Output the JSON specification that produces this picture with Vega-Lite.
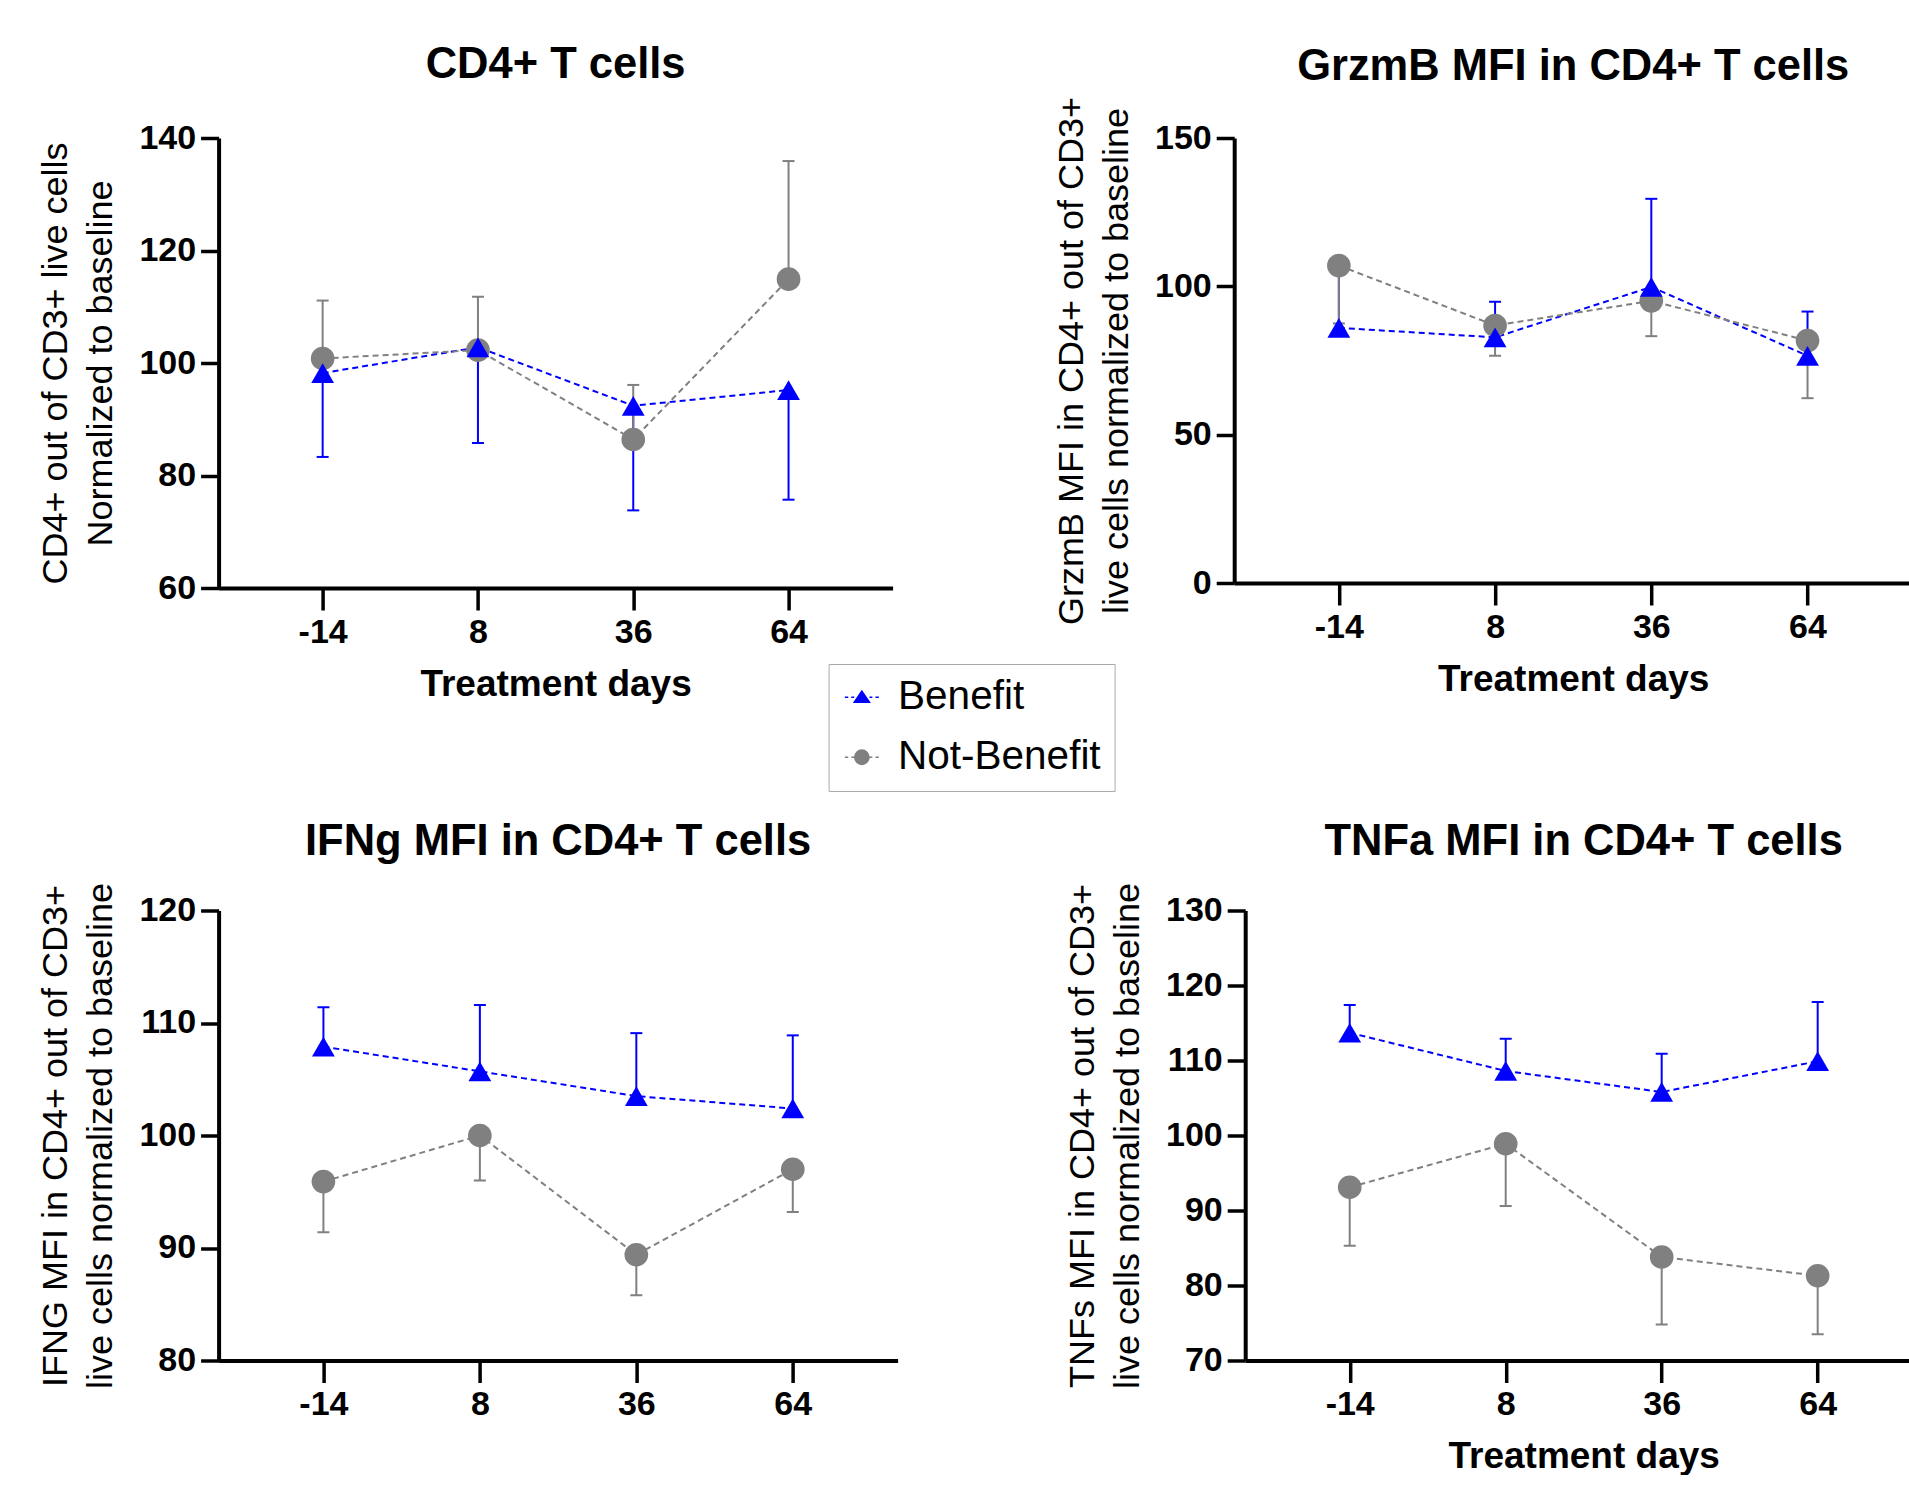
{
  "$schema": "https://vega.github.io/schema/vega-lite/v6.json",
  "padding": {"left": 37.6, "top": 42, "right": 0, "bottom": 0},
  "background": "white",
  "config": {
    "font": "Liberation Sans",
    "view": {"stroke": null},
    "axis": {"grid": false, "domainColor": "black", "domainWidth": 4, "tickColor": "black", "tickWidth": 3.5, "labelColor": "black", "labelFont": "Liberation Sans", "labelFontWeight": "bold", "labelFontSize": 34, "titleFont": "Liberation Sans", "titleColor": "black"},
    "axisY": {"tickSize": 18, "labelPadding": 5, "titleFontWeight": "normal", "titleFontSize": 36, "titleLineHeight": 45, "titlePadding": 19},
    "axisX": {"tickSize": 22, "labelPadding": 5, "labelAngle": 0, "titleFontWeight": "bold", "titleFontSize": 37, "titlePadding": 17},
    "title": {"fontSize": 43.5, "fontWeight": "bold", "font": "Liberation Sans", "color": "black", "anchor": "middle"}
  },
  "datasets": {
    "d": [
      {"panel": "P1", "group": "Benefit", "day": -14, "value": 98.2, "err": 83.3},
      {"panel": "P1", "group": "Benefit", "day": 8, "value": 102.8, "err": 85.8},
      {"panel": "P1", "group": "Benefit", "day": 36, "value": 92.4, "err": 73.8},
      {"panel": "P1", "group": "Benefit", "day": 64, "value": 95.2, "err": 75.7},
      {"panel": "P1", "group": "Not-Benefit", "day": -14, "value": 100.8, "err": 111.1},
      {"panel": "P1", "group": "Not-Benefit", "day": 8, "value": 102.3, "err": 111.8},
      {"panel": "P1", "group": "Not-Benefit", "day": 36, "value": 86.4, "err": 96.1},
      {"panel": "P1", "group": "Not-Benefit", "day": 64, "value": 114.9, "err": 135.9},
      {"panel": "P2", "group": "Benefit", "day": -14, "value": 86.0, "err": 104.0},
      {"panel": "P2", "group": "Benefit", "day": 8, "value": 82.8, "err": 94.8},
      {"panel": "P2", "group": "Benefit", "day": 36, "value": 99.8, "err": 129.5},
      {"panel": "P2", "group": "Benefit", "day": 64, "value": 76.6, "err": 91.5},
      {"panel": "P2", "group": "Not-Benefit", "day": -14, "value": 107.0, "err": 87.5},
      {"panel": "P2", "group": "Not-Benefit", "day": 8, "value": 86.8, "err": 76.6},
      {"panel": "P2", "group": "Not-Benefit", "day": 36, "value": 95.1, "err": 83.2},
      {"panel": "P2", "group": "Not-Benefit", "day": 64, "value": 81.7, "err": 62.3},
      {"panel": "P3", "group": "Benefit", "day": -14, "value": 107.9, "err": 111.4},
      {"panel": "P3", "group": "Benefit", "day": 8, "value": 105.7, "err": 111.6},
      {"panel": "P3", "group": "Benefit", "day": 36, "value": 103.5, "err": 109.1},
      {"panel": "P3", "group": "Benefit", "day": 64, "value": 102.4, "err": 108.9},
      {"panel": "P3", "group": "Not-Benefit", "day": -14, "value": 95.9, "err": 91.4},
      {"panel": "P3", "group": "Not-Benefit", "day": 8, "value": 100.0, "err": 96.0},
      {"panel": "P3", "group": "Not-Benefit", "day": 36, "value": 89.4, "err": 85.8},
      {"panel": "P3", "group": "Not-Benefit", "day": 64, "value": 97.0, "err": 93.2},
      {"panel": "P4", "group": "Benefit", "day": -14, "value": 113.7, "err": 117.4},
      {"panel": "P4", "group": "Benefit", "day": 8, "value": 108.6, "err": 112.9},
      {"panel": "P4", "group": "Benefit", "day": 36, "value": 105.8, "err": 110.9},
      {"panel": "P4", "group": "Benefit", "day": 64, "value": 109.9, "err": 117.8},
      {"panel": "P4", "group": "Not-Benefit", "day": -14, "value": 93.1, "err": 85.3},
      {"panel": "P4", "group": "Not-Benefit", "day": 8, "value": 98.9, "err": 90.6},
      {"panel": "P4", "group": "Not-Benefit", "day": 36, "value": 83.8, "err": 74.8},
      {"panel": "P4", "group": "Not-Benefit", "day": 64, "value": 81.3, "err": 73.5}
    ]
  },
  "spacing": 117.5,
  "vconcat": [
    {
      "spacing": 160.6,
      "hconcat": [
        {
          "width": 674, "height": 450,
          "title": {"text": "CD4+ T cells", "offset": 34},
          "data": {"name": "d"},
          "transform": [{"filter": "datum.panel === 'P1'"}],
          "encoding": {
            "x": {"field": "day", "type": "ordinal", "scale": {"type": "point", "domain": [-14, 8, 36, 64], "padding": 0.67}, "axis": {"title": "Treatment days"}},
            "color": {"field": "group", "type": "nominal", "scale": {"domain": ["Benefit", "Not-Benefit"], "range": ["#0000ff", "#808080"]},
              "legend": {"title": null, "orient": "none", "legendX": 610, "legendY": 526, "direction": "vertical", "labelFontSize": 40.5, "labelLimit": 0, "labelFont": "Liberation Sans", "labelColor": "black", "symbolSize": 1156, "padding": 13, "strokeColor": "#aaaaaa", "fillColor": "white", "rowPadding": 19, "labelOffset": 16,
                "encode": {"symbols": {"update": {
                  "shape": {"signal": "datum.value === 'Benefit' ? 'M-1,0H-0.8M-0.62,0H-0.45M0.45,0H0.62M0.8,0H1M0,-0.36L0.45,0.3L-0.45,0.3Z' : 'M-1,0H-0.8M-0.62,0H-0.45M0.45,0H0.62M0.8,0H1M-0.42,0A0.42,0.42,0,1,0,0.42,0A0.42,0.42,0,1,0,-0.42,0Z'"},
                  "stroke": {"signal": "datum.value === 'Benefit' ? '#0000ff' : '#808080'"},
                  "fill": {"signal": "datum.value === 'Benefit' ? '#0000ff' : '#808080'"},
                  "strokeWidth": {"value": 1.5},
                  "opacity": {"value": 1}
                }}}}}
          },
          "layer": [
            {"mark": {"type": "rule", "strokeWidth": 2}, "encoding": {"y": {"field": "value", "type": "quantitative", "scale": {"domain": [60, 140], "nice": false}, "axis": {"values": [60, 80, 100, 120, 140], "title": ["CD4+ out of CD3+ live cells", "Normalized to baseline"]}}, "y2": {"field": "err"}}},
            {"mark": {"type": "tick", "thickness": 2, "size": 12, "opacity": 1}, "encoding": {"y": {"field": "err", "type": "quantitative"}}},
            {"mark": {"type": "line", "strokeDash": [6, 4], "strokeWidth": 2}, "encoding": {"y": {"field": "value", "type": "quantitative"}}},
            {"transform": [{"filter": "datum.group === 'Not-Benefit'"}], "mark": {"type": "point", "shape": "circle", "filled": true, "size": 560, "opacity": 1}, "encoding": {"y": {"field": "value", "type": "quantitative"}}},
            {"transform": [{"filter": "datum.group === 'Benefit'"}], "mark": {"type": "point", "shape": "triangle-up", "filled": true, "size": 520, "opacity": 1}, "encoding": {"y": {"field": "value", "type": "quantitative"}}}
          ]
        },
        {
          "width": 678, "height": 445,
          "title": {"text": "GrzmB MFI in CD4+ T cells", "offset": 7},
          "data": {"name": "d"},
          "transform": [{"filter": "datum.panel === 'P2'"}],
          "encoding": {
            "x": {"field": "day", "type": "ordinal", "scale": {"type": "point", "domain": [-14, 8, 36, 64], "padding": 0.67}, "axis": {"title": "Treatment days"}},
            "color": {"field": "group", "type": "nominal", "scale": {"domain": ["Benefit", "Not-Benefit"], "range": ["#0000ff", "#808080"]}}
          },
          "layer": [
            {"mark": {"type": "rule", "strokeWidth": 2}, "encoding": {"y": {"field": "value", "type": "quantitative", "scale": {"domain": [0, 150], "nice": false}, "axis": {"values": [0, 50, 100, 150], "title": ["GrzmB MFI in CD4+ out of CD3+", "live cells normalized to baseline"]}}, "y2": {"field": "err"}}},
            {"mark": {"type": "tick", "thickness": 2, "size": 12, "opacity": 1}, "encoding": {"y": {"field": "err", "type": "quantitative"}}},
            {"mark": {"type": "line", "strokeDash": [6, 4], "strokeWidth": 2}, "encoding": {"y": {"field": "value", "type": "quantitative"}}},
            {"transform": [{"filter": "datum.group === 'Not-Benefit'"}], "mark": {"type": "point", "shape": "circle", "filled": true, "size": 560, "opacity": 1}, "encoding": {"y": {"field": "value", "type": "quantitative"}}},
            {"transform": [{"filter": "datum.group === 'Benefit'"}], "mark": {"type": "point", "shape": "triangle-up", "filled": true, "size": 520, "opacity": 1}, "encoding": {"y": {"field": "value", "type": "quantitative"}}}
          ]
        }
      ]
    },
    {
      "spacing": 166.6,
      "hconcat": [
        {
          "width": 679, "height": 450,
          "title": {"text": "IFNg MFI in CD4+ T cells", "offset": 18},
          "data": {"name": "d"},
          "transform": [{"filter": "datum.panel === 'P3'"}],
          "encoding": {
            "x": {"field": "day", "type": "ordinal", "scale": {"type": "point", "domain": [-14, 8, 36, 64], "padding": 0.67}, "axis": {"title": null}},
            "color": {"field": "group", "type": "nominal", "scale": {"domain": ["Benefit", "Not-Benefit"], "range": ["#0000ff", "#808080"]}}
          },
          "layer": [
            {"mark": {"type": "rule", "strokeWidth": 2}, "encoding": {"y": {"field": "value", "type": "quantitative", "scale": {"domain": [80, 120], "nice": false}, "axis": {"values": [80, 90, 100, 110, 120], "title": ["IFNG MFI in CD4+ out of CD3+", "live cells normalized to baseline"]}}, "y2": {"field": "err"}}},
            {"mark": {"type": "tick", "thickness": 2, "size": 12, "opacity": 1}, "encoding": {"y": {"field": "err", "type": "quantitative"}}},
            {"mark": {"type": "line", "strokeDash": [6, 4], "strokeWidth": 2}, "encoding": {"y": {"field": "value", "type": "quantitative"}}},
            {"transform": [{"filter": "datum.group === 'Not-Benefit'"}], "mark": {"type": "point", "shape": "circle", "filled": true, "size": 560, "opacity": 1}, "encoding": {"y": {"field": "value", "type": "quantitative"}}},
            {"transform": [{"filter": "datum.group === 'Benefit'"}], "mark": {"type": "point", "shape": "triangle-up", "filled": true, "size": 520, "opacity": 1}, "encoding": {"y": {"field": "value", "type": "quantitative"}}}
          ]
        },
        {
          "width": 677, "height": 450,
          "title": {"text": "TNFa MFI in CD4+ T cells", "offset": 18},
          "data": {"name": "d"},
          "transform": [{"filter": "datum.panel === 'P4'"}],
          "encoding": {
            "x": {"field": "day", "type": "ordinal", "scale": {"type": "point", "domain": [-14, 8, 36, 64], "padding": 0.67}, "axis": {"title": "Treatment days"}},
            "color": {"field": "group", "type": "nominal", "scale": {"domain": ["Benefit", "Not-Benefit"], "range": ["#0000ff", "#808080"]}}
          },
          "layer": [
            {"mark": {"type": "rule", "strokeWidth": 2}, "encoding": {"y": {"field": "value", "type": "quantitative", "scale": {"domain": [70, 130], "nice": false}, "axis": {"values": [70, 80, 90, 100, 110, 120, 130], "title": ["TNFs MFI in CD4+ out of CD3+", "live cells normalized to baseline"]}}, "y2": {"field": "err"}}},
            {"mark": {"type": "tick", "thickness": 2, "size": 12, "opacity": 1}, "encoding": {"y": {"field": "err", "type": "quantitative"}}},
            {"mark": {"type": "line", "strokeDash": [6, 4], "strokeWidth": 2}, "encoding": {"y": {"field": "value", "type": "quantitative"}}},
            {"transform": [{"filter": "datum.group === 'Not-Benefit'"}], "mark": {"type": "point", "shape": "circle", "filled": true, "size": 560, "opacity": 1}, "encoding": {"y": {"field": "value", "type": "quantitative"}}},
            {"transform": [{"filter": "datum.group === 'Benefit'"}], "mark": {"type": "point", "shape": "triangle-up", "filled": true, "size": 520, "opacity": 1}, "encoding": {"y": {"field": "value", "type": "quantitative"}}}
          ]
        }
      ]
    }
  ]
}
